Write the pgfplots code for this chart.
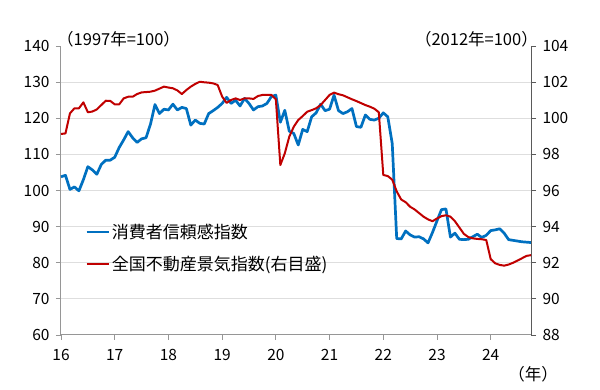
\documentclass[border=0pt]{standalone}
\usepackage{fontspec}
\setmainfont{Noto Sans CJK JP}
\usepackage{pgfplots}
\pgfplotsset{compat=1.18}
\usepackage{pgfplotstable}
\definecolor{cblue}{RGB}{0,112,192}
\definecolor{cred}{RGB}{192,0,0}
\definecolor{axgray}{RGB}{150,150,150}
\definecolor{axdark}{RGB}{90,90,90}
\definecolor{gridc}{RGB}{222,222,222}

\pgfplotstableread{
i y
0 103.8
1 104.2
2 100.3
3 101.0
4 99.9
5 103.0
6 106.6
7 105.7
8 104.5
9 107.2
10 108.4
11 108.4
12 109.2
13 111.9
14 114.0
15 116.3
16 114.6
17 113.3
18 114.3
19 114.6
20 118.4
21 123.8
22 121.3
23 122.5
24 122.3
25 123.9
26 122.3
27 123.0
28 122.7
29 118.1
30 119.5
31 118.6
32 118.4
33 121.3
34 122.1
35 123.0
36 124.1
37 125.8
38 124.1
39 125.0
40 123.4
41 125.5
42 124.1
43 122.3
44 123.2
45 123.4
46 124.1
47 126.0
48 126.4
49 118.9
50 122.2
51 116.4
52 115.8
53 112.6
54 116.9
55 116.3
56 120.4
57 121.5
58 123.9
59 122.1
60 122.5
61 126.4
62 122.1
63 121.3
64 121.8
65 122.7
66 117.7
67 117.5
68 120.9
69 119.7
70 119.5
71 120.0
72 121.5
73 120.4
74 113.0
75 86.7
76 86.6
77 88.8
78 87.7
79 87.1
80 87.2
81 86.6
82 85.5
83 88.4
84 91.6
85 94.7
86 94.9
87 87.1
88 88.2
89 86.5
90 86.4
91 86.5
92 87.2
93 87.9
94 87.0
95 87.6
96 88.9
97 89.1
98 89.4
99 88.2
100 86.4
101 86.2
102 86.0
103 85.8
104 85.7
105 85.6
}\bluetable

\pgfplotstableread{
i y
0 99.13
1 99.16
2 100.27
3 100.55
4 100.55
5 100.88
6 100.33
7 100.37
8 100.49
9 100.73
10 100.97
11 100.96
12 100.77
13 100.77
14 101.10
15 101.19
16 101.19
17 101.34
18 101.43
19 101.45
20 101.47
21 101.53
22 101.64
23 101.75
24 101.70
25 101.66
26 101.54
27 101.34
28 101.56
29 101.75
30 101.90
31 102.02
32 101.99
33 101.97
34 101.93
35 101.84
36 101.20
37 100.85
38 101.01
39 101.10
40 101.01
41 101.10
42 101.10
43 101.07
44 101.23
45 101.29
46 101.29
47 101.29
48 101.05
49 97.41
50 98.06
51 98.98
52 99.53
53 99.90
54 100.12
55 100.36
56 100.45
57 100.55
58 100.73
59 101.01
60 101.29
61 101.42
62 101.33
63 101.27
64 101.16
65 101.05
66 100.95
67 100.84
68 100.73
69 100.64
70 100.53
71 100.33
72 96.86
73 96.80
74 96.60
75 95.95
76 95.50
77 95.35
78 95.10
79 94.95
80 94.75
81 94.55
82 94.40
83 94.30
84 94.45
85 94.58
86 94.63
87 94.55
88 94.30
89 93.95
90 93.60
91 93.42
92 93.35
93 93.32
94 93.30
95 93.26
96 92.20
97 91.97
98 91.88
99 91.84
100 91.90
101 92.00
102 92.12
103 92.25
104 92.38
105 92.42
}\redtable

\pgfplotsset{
  base/.style={
    scale only axis, width=470pt, height=289pt,
    at={(61pt,55pt)}, anchor=south west,
    xmin=16, xmax=24.75,
    tick align=outside, major tick length=5pt,
    /pgf/number format/assume math mode=true,
    tick label style={font=\fontsize{15.5pt}{18pt}\selectfont},
    clip=false,
  }
}

\begin{document}
\begin{tikzpicture}
\useasboundingbox (0,0) rectangle (600pt,390pt);
\begin{axis}[base,
  axis x line*=bottom, axis y line*=left,
  ymin=60, ymax=140, ytick={60,70,...,140},
  xtick={16,17,...,24},
  axis line style={axgray, line width=1pt, -},
  tick style={axgray, line width=0.9pt},
  extra y ticks={70,80,...,130}, extra y tick labels={},
  extra y tick style={grid=major, major tick length=0pt},
  grid style={gridc, line width=0.9pt},
  yticklabel style={xshift=-3pt},
  xticklabel style={yshift=-6pt},
  legend style={draw=none, fill=none, at={(0.051,0.391)}, anchor=north west,
    font=\fontsize{17pt}{20pt}\selectfont, row sep=12pt, inner sep=0pt},
  legend cell align=left,
  legend image code/.code={\draw[#1] (0pt,0pt) -- (22pt,0pt);},
]
\addplot[cblue, line width=2.7pt, line join=round] table[x expr=16+\thisrow{i}/12, y=y] {\bluetable};
\addlegendentry{消費者信頼感指数}
\addlegendimage{cred, line width=2pt}
\addlegendentry{全国不動産景気指数(右目盛)}
\end{axis}
\begin{axis}[base,
  axis x line=none, axis y line*=right,
  ymin=88, ymax=104, ytick={88,90,...,104},
  axis line style={axdark, line width=1pt, -},
  tick style={axdark, line width=0.9pt},
  yticklabel style={xshift=3pt},
]
\addplot[cred, line width=2pt, line join=round] table[x expr=16+\thisrow{i}/12, y=y] {\redtable};
\end{axis}
\node[anchor=west, font=\fontsize{16.5pt}{19pt}\selectfont, inner sep=0pt] at (57pt,351pt) {（1997年=100）};
\node[anchor=east, font=\fontsize{16.5pt}{19pt}\selectfont, inner sep=0pt] at (538pt,351pt) {（2012年=100）};
\node[font=\fontsize{16.5pt}{19pt}\selectfont, inner sep=0pt] at (533pt,16pt) {（年）};
\end{tikzpicture}
\end{document}
